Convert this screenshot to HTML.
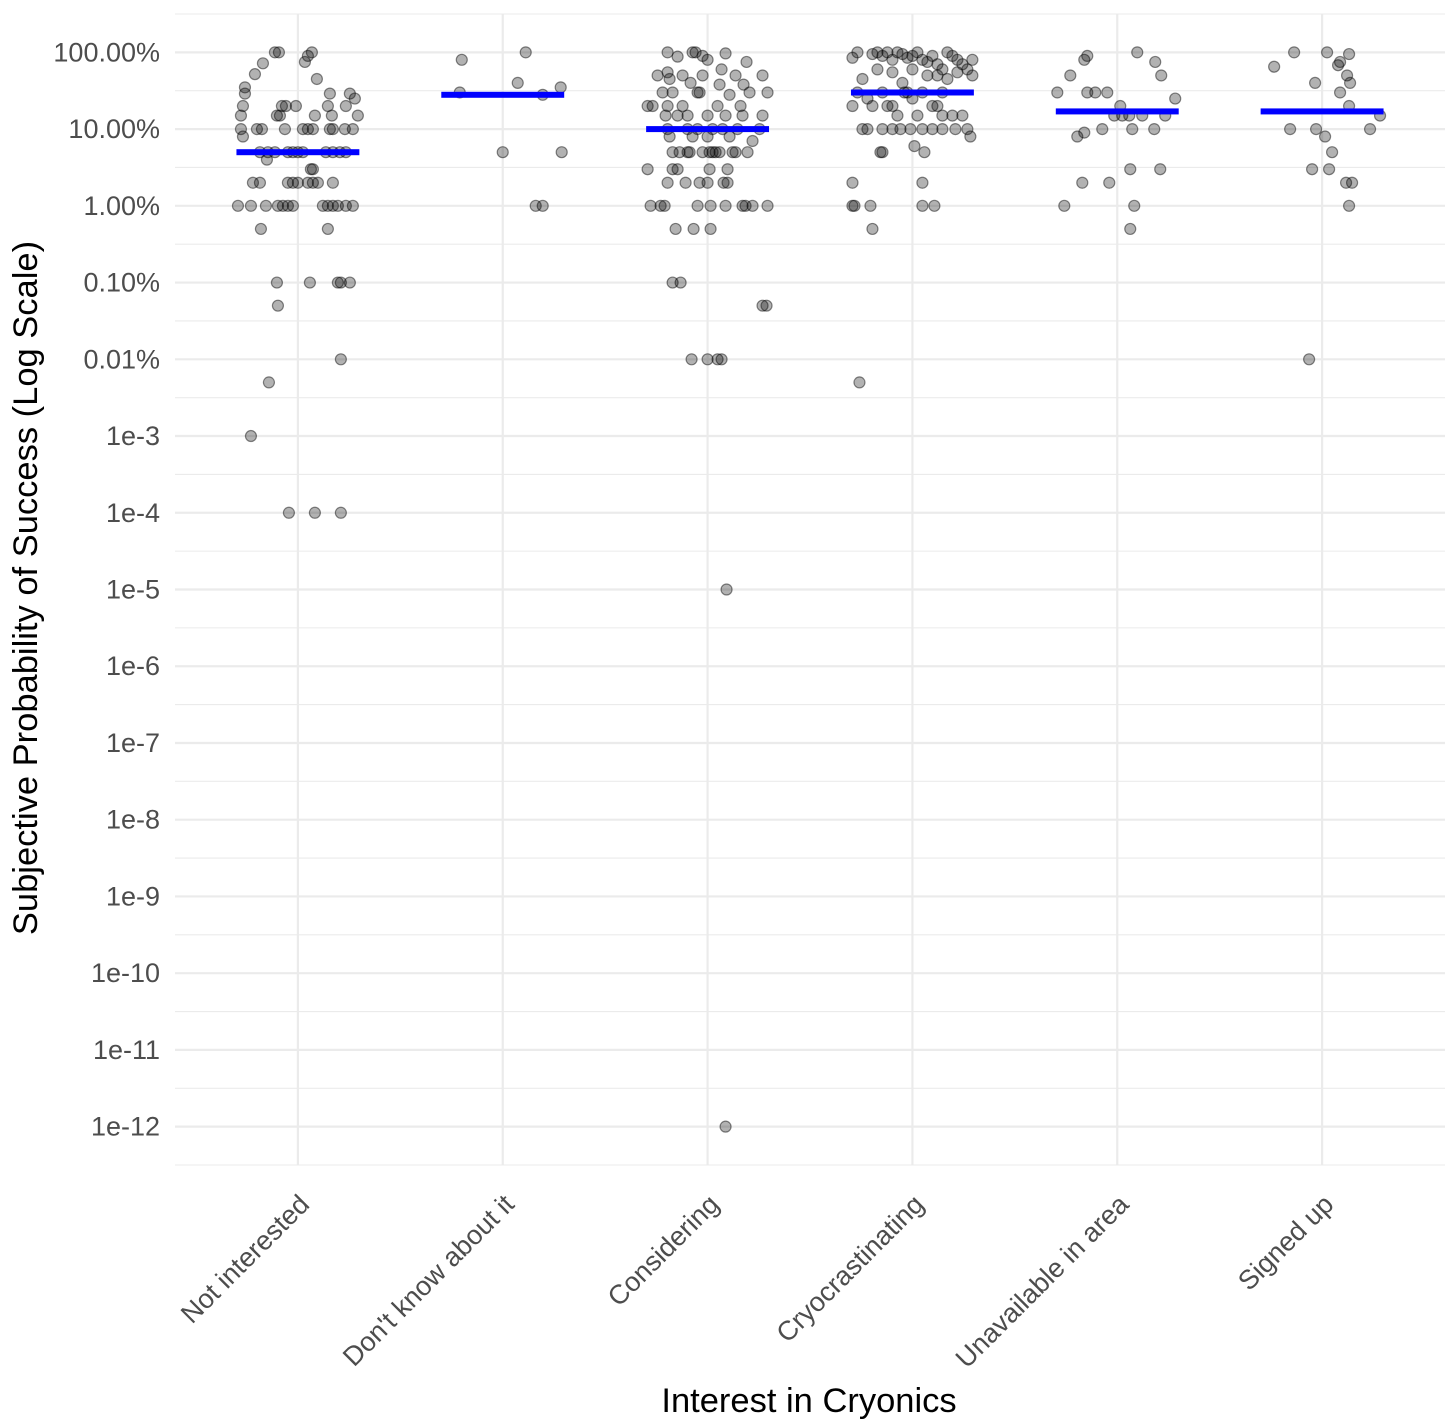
<!DOCTYPE html>
<html><head><meta charset="utf-8"><style>
html,body{margin:0;padding:0;background:#fff;}
svg{display:block;font-family:"Liberation Sans",sans-serif;}
</style></head><body>
<svg id="chart" width="1456" height="1423" viewBox="0 0 1456 1423" xmlns="http://www.w3.org/2000/svg">
<g id="grid"></g>
<g id="pts"></g>
<g id="bars"></g>
<g id="axes"></g>
<text transform="translate(37,588) rotate(-90)" text-anchor="middle" font-size="34.5" fill="#000">Subjective Probability of Success (Log Scale)</text>
<text x="809" y="1412" text-anchor="middle" font-size="34.5" fill="#000">Interest in Cryonics</text>
</svg>
<script>
const categories = ["Not interested","Don't know about it","Considering","Cryocrastinating","Unavailable in area","Signed up"];
const tickExps = [0,-1,-2,-3,-4,-5,-6,-7,-8,-9,-10,-11,-12,-13,-14];
const tickLabels = ["100.00%","10.00%","1.00%","0.10%","0.01%","1e-3","1e-4","1e-5","1e-6","1e-7","1e-8","1e-9","1e-10","1e-11","1e-12"];
const medians = [0.05,0.28,0.1,0.3,0.17,0.17];
// points per category: [jitter (1/205 of category spacing), value]
const ptsNotInterested = [[-23,1],[-19,1],[10,0.9],[14,1],[7,0.75],[-35,0.72],[-43,0.52],[-53,0.35],[-53,0.29],[19,0.45],[32,0.29],[52,0.29],[57,0.25],[-55,0.2],[-16,0.2],[-12,0.2],[-2,0.2],[30,0.2],[48,0.2],[-57,0.15],[-21,0.15],[-18,0.15],[17,0.15],[34,0.15],[60,0.15],[-57,0.1],[-41,0.1],[-36,0.1],[-13,0.1],[5,0.1],[10,0.1],[15,0.1],[32,0.1],[35,0.1],[47,0.1],[55,0.1],[-55,0.08],[-31,0.04],[-38,0.05],[-30,0.05],[-23,0.05],[-10,0.05],[-5,0.05],[0,0.05],[5,0.05],[28,0.05],[35,0.05],[42,0.05],[48,0.05],[15,0.03],[13,0.03],[-45,0.02],[-38,0.02],[-10,0.02],[-5,0.02],[0,0.02],[10,0.02],[15,0.02],[20,0.02],[35,0.02],[-60,0.01],[-47,0.01],[-32,0.01],[-20,0.01],[-15,0.01],[-10,0.01],[-5,0.01],[25,0.01],[30,0.01],[35,0.01],[40,0.01],[48,0.01],[55,0.01],[-37,0.005],[30,0.005],[-21,0.001],[12,0.001],[40,0.001],[43,0.001],[52,0.001],[-20,0.0005],[43,1e-4],[-29,5e-5],[-47,1e-5],[-9,1e-6],[17,1e-6],[43,1e-6]];
const ptsDontKnow = [[23,1],[-41,0.8],[-43,0.3],[15,0.4],[58,0.35],[40,0.28],[0,0.05],[59,0.05],[33,0.01],[40,0.01]];
const ptsConsidering = [[-40,1],[-15,1],[-12,1],[-5,0.9],[18,0.97],[-30,0.88],[0,0.8],[39,0.75],[14,0.6],[-40,0.55],[28,0.5],[-50,0.5],[-25,0.5],[-5,0.5],[55,0.5],[-38,0.45],[-17,0.4],[12,0.38],[36,0.38],[-45,0.3],[-35,0.3],[-10,0.3],[-8,0.3],[22,0.28],[42,0.3],[60,0.3],[-55,0.2],[-40,0.2],[-25,0.2],[10,0.2],[33,0.2],[-60,0.2],[-42,0.15],[-30,0.15],[-20,0.15],[0,0.15],[18,0.15],[35,0.15],[55,0.15],[-40,0.1],[-20,0.1],[-10,0.1],[5,0.1],[15,0.1],[30,0.1],[52,0.1],[-38,0.08],[-15,0.08],[0,0.08],[22,0.08],[45,0.07],[-35,0.05],[-28,0.05],[-20,0.05],[-18,0.05],[-5,0.05],[2,0.05],[5,0.05],[8,0.05],[12,0.05],[25,0.05],[28,0.05],[40,0.05],[-60,0.03],[-30,0.03],[-35,0.03],[2,0.03],[20,0.03],[-40,0.02],[-22,0.02],[-8,0.02],[0,0.02],[16,0.02],[20,0.02],[-57,0.01],[-47,0.01],[-43,0.01],[-10,0.01],[3,0.01],[18,0.01],[35,0.01],[38,0.01],[45,0.01],[60,0.01],[-32,0.005],[-14,0.005],[3,0.005],[-35,0.001],[-27,0.001],[55,5e-4],[59,5e-4],[-16,1e-4],[0,1e-4],[10,1e-4],[14,1e-4],[19,1e-7],[18,1e-14]];
const ptsCryocrastinating = [[-60,0.85],[-55,1],[-40,0.95],[-35,1],[-30,0.9],[-25,1],[-20,0.8],[-15,1],[-10,0.95],[-5,0.85],[0,0.9],[5,1],[10,0.8],[15,0.75],[20,0.9],[25,0.7],[30,0.6],[35,1],[40,0.9],[45,0.8],[50,0.7],[55,0.6],[60,0.8],[-50,0.45],[-35,0.6],[-20,0.55],[-10,0.4],[0,0.6],[15,0.5],[25,0.5],[35,0.45],[45,0.55],[60,0.5],[-55,0.3],[-45,0.25],[-30,0.3],[-20,0.2],[-8,0.3],[0,0.25],[10,0.3],[20,0.2],[25,0.2],[30,0.3],[-60,0.2],[-40,0.2],[-25,0.2],[-15,0.15],[-5,0.3],[5,0.15],[30,0.15],[40,0.15],[50,0.15],[-50,0.1],[-45,0.1],[-30,0.1],[-20,0.1],[-12,0.1],[-2,0.1],[10,0.1],[20,0.1],[30,0.1],[43,0.1],[55,0.1],[58,0.08],[2,0.06],[12,0.05],[-30,0.05],[-32,0.05],[-60,0.02],[10,0.02],[-60,0.01],[-58,0.01],[-42,0.01],[10,0.01],[22,0.01],[-40,0.005],[-53,5e-5]];
const ptsUnavailable = [[20,1],[-30,0.9],[-33,0.8],[38,0.75],[-47,0.5],[44,0.5],[-60,0.3],[-30,0.3],[-22,0.3],[-10,0.3],[58,0.25],[3,0.2],[-40,0.08],[-33,0.09],[-15,0.1],[15,0.1],[37,0.1],[-3,0.15],[5,0.15],[12,0.15],[25,0.15],[48,0.15],[-35,0.02],[-8,0.02],[13,0.03],[43,0.03],[-53,0.01],[17,0.01],[13,0.005]];
const ptsSignedUp = [[-28,1],[5,1],[27,0.95],[-48,0.65],[18,0.75],[16,0.68],[25,0.5],[28,0.4],[-7,0.4],[18,0.3],[27,0.2],[48,0.1],[-32,0.1],[-6,0.1],[3,0.08],[58,0.15],[10,0.05],[7,0.03],[-10,0.03],[24,0.02],[30,0.02],[27,0.01],[-13,1e-4]];
const allPoints = [ptsNotInterested,ptsDontKnow,ptsConsidering,ptsCryocrastinating,ptsUnavailable,ptsSignedUp];

const NS="http://www.w3.org/2000/svg";
const L=175,R=1445,T=14,B=1165;
const unit=(R-L)/(categories.length-1+1.2);
const xS=i=>L+(i+0.6)*unit;
const yMax=0.5,yMin=-14.5;
const yS=v=>T+(yMax-Math.log10(v))/(yMax-yMin)*(B-T);
const yE=e=>T+(yMax-e)/(yMax-yMin)*(B-T);
function mk(tag,attrs,parent){const e=document.createElementNS(NS,tag);for(const k in attrs)e.setAttribute(k,attrs[k]);parent.appendChild(e);return e;}
const grid=document.getElementById('grid'),axes=document.getElementById('axes'),bars=document.getElementById('bars'),pts=document.getElementById('pts');
for(let e=yMax;e>=yMin-0.001;e-=0.5){
  const isMajor=Math.abs(e-Math.round(e))<1e-6;
  const ln=mk('line',{x1:L,x2:R,y1:yE(e),y2:yE(e),stroke:'#ebebeb','stroke-width':isMajor?2.2:1.1},grid);
  
  
}
categories.forEach((c,i)=>{
  const ln=mk('line',{x1:xS(i),x2:xS(i),y1:T,y2:B,stroke:'#ebebeb','stroke-width':2.2},grid);
  
  
  const t=mk('text',{transform:`translate(${xS(i)+13},${B+41}) rotate(-45)`,'text-anchor':'end','font-size':27,fill:'#4d4d4d'},axes);
  t.textContent=c;
  
  
});
tickExps.forEach((e,i)=>{
  const t=mk('text',{x:160,y:yE(e)+9,'text-anchor':'end','font-size':27,fill:'#4d4d4d'},axes);
  t.textContent=tickLabels[i];
  
  
});
allPoints.forEach((arr,i)=>{
  arr.forEach(p=>{
    const c=mk('circle',{cx:xS(i)+p[0]/205*unit,cy:yS(p[1]),r:5.5,fill:'rgba(0,0,0,0.3)',stroke:'rgba(0,0,0,0.45)','stroke-width':1.2},pts);
    
    
  });
});
medians.forEach((m,i)=>{
  const r=mk('rect',{x:xS(i)-0.3*unit,y:yS(m)-3,width:0.6*unit,height:6,fill:'#0000ff'},bars);
  
  
});
</script>
</body></html>
